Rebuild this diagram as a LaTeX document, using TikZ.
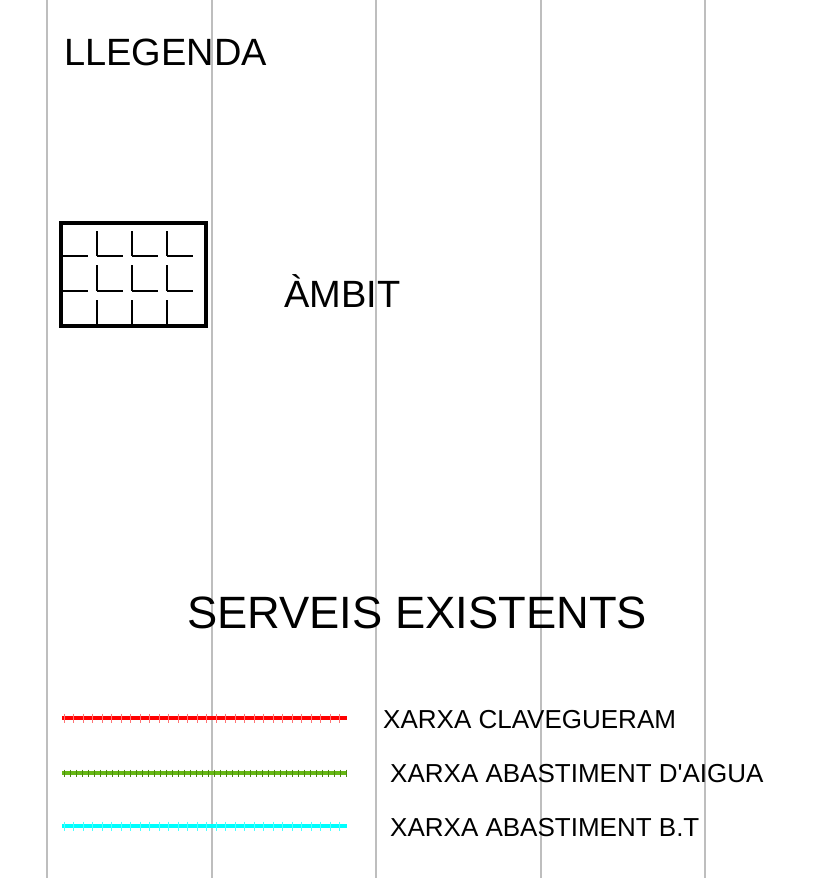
\documentclass[tikz,border=0pt]{standalone}
\usepackage{fontspec}
\setmainfont{Liberation Sans}[Ligatures=TeXOff]
\definecolor{sred}{RGB}{255,0,0}
\definecolor{sgreen}{RGB}{102,184,20}
\definecolor{scyan}{RGB}{0,255,255}
\definecolor{guide}{RGB}{190,190,190}
\begin{document}
\begin{tikzpicture}[x=1pt,y=-1pt,
  grid/.style={draw=guide,line width=1.6pt},
  title/.style={inner sep=0pt,anchor=base west,font=\fontsize{38}{40}\selectfont},
  head/.style={inner sep=0pt,anchor=base west,font=\fontsize{45.3}{48}\selectfont},
  lab/.style={inner sep=0pt,anchor=base west,font=\fontsize{26}{28}\selectfont},
  frame/.style={draw=black,line width=4pt},
  cell/.style={draw=black,line width=1.8pt},
  sample/.style={line width=4.5pt},
  tick/.style={line width=0.7pt}]
\useasboundingbox (0,0) rectangle (828,878);
\fill[white] (0,0) rectangle (828,878);
% vertical guide lines
\foreach \x in {47,212,376,541,705} \draw[grid] (\x,0) -- (\x,878);
% title
\node[title] (lleg) at (64,65) {LLEGENDA};
% ambit symbol
\draw[frame] (60.5,222.5) rectangle (205.5,325.5);
\foreach \y in {256,291}{
  \draw[cell] (62,\y) -- (88,\y);
  \foreach \x in {97,132,167} \draw[cell] (\x,\y) -- (\x+26,\y);
}
\foreach \x in {97,132,167}{
  \draw[cell] (\x,231) -- (\x,256);
  \draw[cell] (\x,265) -- (\x,291);
  \draw[cell] (\x,300) -- (\x,324);
}
\node[title] (ambit) at (284,307) {ÀMBIT};
% services
\node[head] (serv) at (187,628) {SERVEIS EXISTENTS};
\draw[sample,sred] (62,718) -- (347,718);
\foreach \x in {64,73.5,...,346} \draw[tick,sred!55] (\x,713.5) -- (\x,722.5);
\draw[sample,sgreen] (62,773) -- (347,773);
\foreach \x in {64,70,...,346} \draw[tick,sgreen!75!black] (\x,769.5) -- (\x,776.5);
\draw[sample,scyan] (62,826) -- (347,826);
\foreach \x in {64,73.5,...,346} \draw[tick,scyan!70!white] (\x,821.5) -- (\x,830.5);
\node[lab] (clav) at (383,728) {XARXA CLAVEGUERAM};
\node[lab] (aigua) at (390,782) {XARXA ABASTIMENT D'AIGUA};
\node[lab] (bt) at (390,836) {XARXA ABASTIMENT B.T};
\end{tikzpicture}
\end{document}
